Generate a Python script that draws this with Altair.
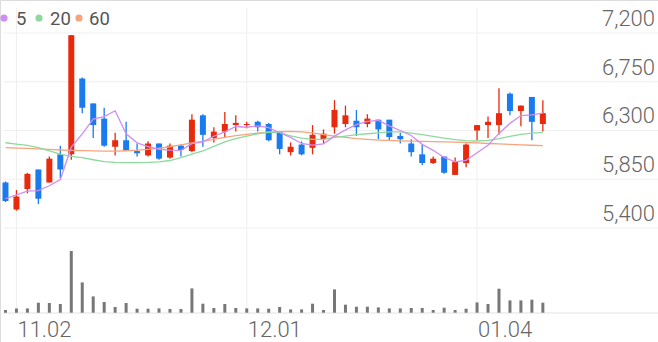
import altair as alt
import pandas as pd

# ---- data ----
opens = [5820, 5570, 5760, 5940, 5820, 6080, 6080, 6780, 6550, 6410,
         6150, 6210, 6110, 6070, 6180, 6050, 6160, 6110, 6440, 6230,
         6290, 6350, 6350, 6380, 6360, 6290, 6100, 6170, 6140, 6220,
         6330, 6360, 6390, 6360, 6400, 6400, 6250, 6180, 6080, 6000,
         6060, 5890, 6000, 6300, 6350, 6350, 6640, 6480, 6610, 6360]
highs = [5830, 5750, 5910, 5940, 6060, 6160, 7180, 6790, 6550, 6510,
         6280, 6380, 6180, 6200, 6180, 6180, 6170, 6450, 6450, 6330,
         6470, 6440, 6380, 6390, 6370, 6290, 6190, 6200, 6350, 6310,
         6580, 6530, 6490, 6450, 6400, 6400, 6280, 6220, 6170, 6060,
         6060, 6050, 6180, 6350, 6430, 6690, 6650, 6530, 6610, 6580]
lows = [5640, 5560, 5720, 5620, 5820, 5860, 6030, 6460, 6230, 6150,
        6070, 6120, 6060, 6060, 6030, 6040, 6060, 6100, 6150, 6190,
        6240, 6290, 6320, 6290, 6200, 6080, 6070, 6070, 6080, 6180,
        6270, 6330, 6250, 6330, 6220, 6210, 6180, 6060, 5980, 5990,
        5900, 5890, 5960, 6210, 6230, 6260, 6440, 6340, 6210, 6290]
closes = [5650, 5690, 5900, 5670, 6040, 5940, 7180, 6510, 6350, 6160,
          6210, 6120, 6090, 6180, 6040, 6160, 6120, 6400, 6260, 6290,
          6360, 6370, 6360, 6330, 6210, 6130, 6150, 6080, 6260, 6270,
          6490, 6440, 6330, 6410, 6310, 6240, 6220, 6100, 6000, 6040,
          5910, 6010, 6170, 6350, 6380, 6460, 6480, 6530, 6380, 6460]
ma5 = [5670, 5705, 5740, 5745, 5790, 5848, 6146, 6268, 6405, 6429,
       6482, 6270, 6186, 6151, 6127, 6118, 6117, 6178, 6195, 6247,
       6287, 6337, 6330, 6343, 6326, 6279, 6236, 6180, 6165, 6177,
       6248, 6306, 6355, 6384, 6393, 6343, 6300, 6254, 6172, 6117,
       6051, 6011, 6025, 6095, 6164, 6273, 6366, 6438, 6445, 6461]
ma20 = [6187, 6175, 6163, 6142, 6111, 6081, 6062, 6050, 6030, 6012,
        6005, 6003, 6003, 6005, 6010, 6023, 6050, 6081, 6111, 6154,
        6194, 6224, 6249, 6270, 6285, 6282, 6251, 6230, 6218, 6218,
        6236, 6249, 6261, 6270, 6279, 6288, 6288, 6276, 6261, 6245,
        6230, 6215, 6206, 6203, 6209, 6224, 6245, 6264, 6276, 6282]
ma60 = [6141, 6138, 6135, 6130, 6125, 6120, 6116, 6114, 6112, 6110,
        6110, 6113, 6118, 6126, 6136, 6150, 6168, 6185, 6200, 6218,
        6236, 6252, 6265, 6276, 6284, 6290, 6291, 6288, 6278, 6262,
        6248, 6236, 6225, 6218, 6212, 6208, 6205, 6202, 6200, 6198,
        6195, 6192, 6189, 6185, 6180, 6176, 6172, 6168, 6164, 6160]
volumes = [270, 430, 430, 1000, 970, 870, 6170, 3030, 1630, 1070,
           570, 970, 400, 400, 430, 370, 370, 2430, 900, 470,
           870, 470, 430, 430, 400, 570, 330, 330, 900, 270,
           2330, 800, 600, 600, 530, 430, 430, 470, 470, 270,
           500, 270, 400, 1030, 870, 2400, 1230, 1230, 1300, 1000]
tick_idx = [1, 22, 43]
tick_labels = ["11.02", "12.01", "01.04"]
price_ticks = [5400, 5850, 6300, 6750, 7200]
ma_names = ["5", "20", "60"]

# ---- styling ----
W, H = 658, 342
RED, BLUE = "#e8290c", "#1a7bef"
C5, C20, C60 = "#d08ef0", "#8ed99d", "#f6a47d"
FONT = "Roboto"

n = len(closes)
df = pd.DataFrame({
    "i": list(range(n)), "o": opens, "h": highs, "l": lows, "c": closes,
    "m5": ma5, "m20": ma20, "m60": ma60, "v": volumes,
})
df["dir"] = ["up" if c >= o else "down" for o, c in zip(opens, closes)]

xs = alt.Scale(domain=[-0.5, 59.5], nice=False, zero=False, padding=0)
ys = alt.Scale(domain=[4347.7, 7504.6], nice=False, zero=False)
vs = alt.Scale(domain=[-2930, 31270], nice=False, zero=False)
col = alt.Color("dir:N", scale=alt.Scale(domain=["up", "down"], range=[RED, BLUE]), legend=None)

X = alt.X("i:Q", scale=xs, axis=None)
base = alt.Chart(df)

ptick_df = pd.DataFrame({"p": price_ticks, "lab": [f"{p:,}" for p in price_ticks]})
xtick_df = pd.DataFrame({"i": tick_idx, "lab": tick_labels})

hgrid = alt.Chart(ptick_df).mark_rule(color="#efefef", strokeWidth=1).encode(
    y=alt.Y("p:Q", scale=ys, axis=None), x=alt.value(3), x2=alt.value(W))
vgrid = alt.Chart(xtick_df).mark_rule(color="#efefef", strokeWidth=1).encode(
    x=alt.X("i:Q", scale=xs, axis=None), y=alt.value(8), y2=alt.value(313))
baseline = alt.Chart(ptick_df.head(1)).mark_rule(color="#e2e2e2", strokeWidth=1).encode(
    x=alt.value(3), x2=alt.value(W), y=alt.value(313))

wick = base.mark_rule(strokeWidth=1.3).encode(
    x=X, y=alt.Y("l:Q", scale=ys, axis=None), y2="h:Q", color=col)
body = base.mark_bar(size=6).encode(
    x=X, y=alt.Y("o:Q", scale=ys, axis=None), y2="c:Q", color=col)

def ma_line(field, color):
    return base.mark_line(strokeWidth=1.3, color=color).encode(
        x=X, y=alt.Y(f"{field}:Q", scale=ys, axis=None))

l60 = ma_line("m60", C60)
l20 = ma_line("m20", C20)
l5 = ma_line("m5", C5)

vol = base.mark_bar(size=3, color="#777777").encode(
    x=X, y=alt.Y("v:Q", scale=vs, axis=None), y2=alt.datum(0))

ylab = alt.Chart(ptick_df).mark_text(
    align="right", baseline="alphabetic", dy=-7, font=FONT, fontSize=22,
    fontWeight=300, color="#666").encode(
    x=alt.value(655), y=alt.Y("p:Q", scale=ys, axis=None), text="lab:N")
xlab = alt.Chart(xtick_df).mark_text(
    align="left", baseline="alphabetic", dx=1, font=FONT, fontSize=22,
    fontWeight=300, color="#666").encode(
    x=alt.X("i:Q", scale=xs, axis=None), y=alt.value(337), text="lab:N")

leg_layers = []
for name, color, cx, tx in zip(ma_names, [C5, C20, C60], [4, 39, 79], [16, 50, 89]):
    one = pd.DataFrame({"k": [name]})
    leg_layers.append(alt.Chart(one).mark_circle(size=52, color=color, opacity=1).encode(
        x=alt.value(cx), y=alt.value(18)))
    leg_layers.append(alt.Chart(one).mark_text(
        align="left", baseline="alphabetic", font=FONT, fontSize=18.5, fontWeight=400,
        color="#555").encode(x=alt.value(tx), y=alt.value(24.5), text="k:N"))

chart = alt.layer(
    hgrid, vgrid, baseline, vol, wick, body, l60, l20, l5, ylab, xlab, *leg_layers
).resolve_scale(y="independent").properties(
    width=W, height=H, padding=0, autosize=alt.AutoSizeParams(type="none")
).configure_view(stroke=None).configure(background="white")

chart.save("out.html", embed_options={"renderer": "svg", "actions": False})
